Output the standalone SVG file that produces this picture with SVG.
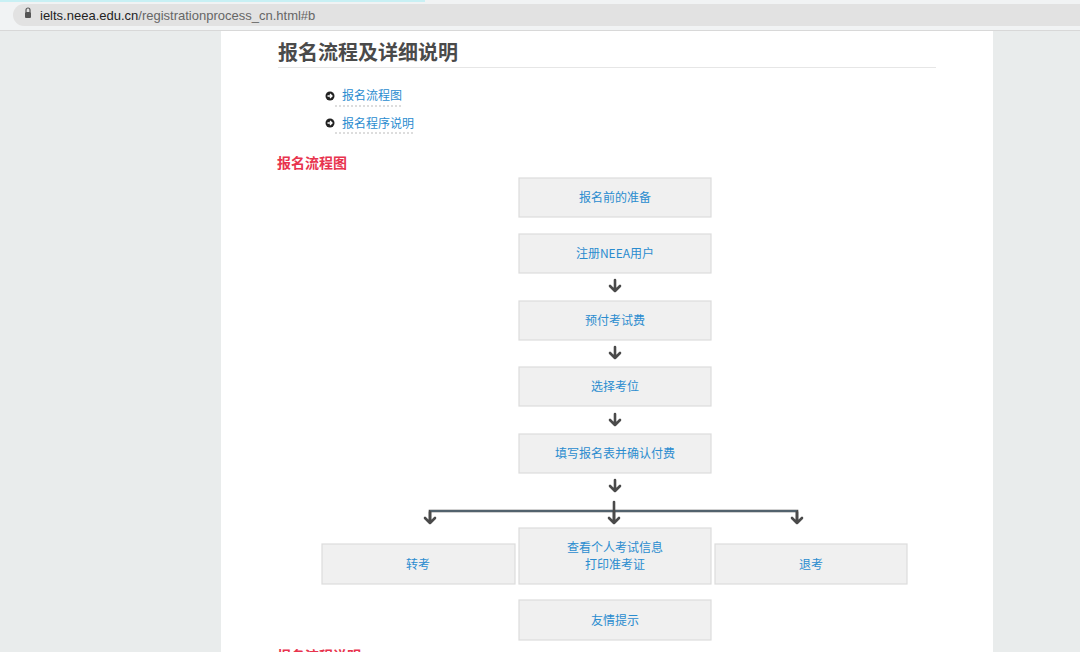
<svg xmlns="http://www.w3.org/2000/svg" width="1080" height="652" viewBox="0 0 1080 652">
<style>
.box{fill:#f0f0f0;stroke:#dcdcdc;stroke-width:1.2}
.t{font-family:"Noto Sans CJK SC","Noto Sans",sans-serif;font-size:12px;fill:#2a8ccf;text-anchor:middle}
.ar{fill:none;stroke:#4a4a4a;stroke-width:2.6;stroke-linecap:round;stroke-linejoin:round}
</style>
<defs>
<g id="dn"><path class="ar" d="M0,-6 V5 M-5,0 L0,5 L5,0"/></g>
</defs>
<rect width="1080" height="652" fill="#e9ecec"/>
<rect x="0" y="0" width="1080" height="30" fill="#f1f3f4"/>
<rect x="0" y="0" width="425" height="2" fill="#c8f0f4"/>
<rect x="13" y="4" width="1080" height="22" rx="11" fill="#e2e2e2"/>
<rect x="25" y="12" width="6" height="6" rx="1" fill="#555"/>
<path d="M26,12 v-2 a2,2 0 0 1 4,0 v2" fill="none" stroke="#555" stroke-width="1.2"/>
<text x="40" y="20" font-family="Liberation Sans,sans-serif" font-size="13" fill="#222">ielts.neea.edu.cn<tspan fill="#666">/registrationprocess_cn.html#b</tspan></text>
<rect x="0" y="30" width="1080" height="1" fill="#d8d8d8"/>
<rect x="221" y="31" width="772" height="621" fill="#fff"/>
<text x="278" y="60" font-family="Noto Sans CJK SC,sans-serif" font-size="20" font-weight="bold" fill="#4a4a4a">报名流程及详细说明</text>
<rect x="278" y="67" width="658" height="1" fill="#e6e6e6"/>
<circle cx="330" cy="96" r="4.5" fill="#222"/><path d="M327.5,96 h4 M330,94 l2,2 l-2,2" stroke="#fff" stroke-width="1.3" fill="none"/>
<text x="342" y="100" font-family="Noto Sans CJK SC,sans-serif" font-size="12" fill="#2a8ccf">报名流程图</text>
<line x1="335" y1="106" x2="402" y2="106" stroke="#bbb" stroke-dasharray="2,2"/>
<circle cx="330" cy="123" r="4.5" fill="#222"/><path d="M327.5,123 h4 M330,121 l2,2 l-2,2" stroke="#fff" stroke-width="1.3" fill="none"/>
<text x="342" y="128" font-family="Noto Sans CJK SC,sans-serif" font-size="12" fill="#2a8ccf">报名程序说明</text>
<line x1="335" y1="133" x2="413" y2="133" stroke="#bbb" stroke-dasharray="2,2"/>
<text x="277" y="168" font-family="Noto Sans CJK SC,sans-serif" font-size="14" font-weight="bold" fill="#e8344e">报名流程图</text>
<text x="277" y="661" font-family="Noto Sans CJK SC,sans-serif" font-size="14" font-weight="bold" fill="#e8344e">报名流程说明</text>
<g id="connectors">
<use href="#dn" x="615" y="286"/>
<use href="#dn" x="615" y="353"/>
<use href="#dn" x="615" y="420"/>
<use href="#dn" x="615" y="486"/>
<path d="M430,521 V511 H797 V521" fill="none" stroke="#4a4a4a" stroke-width="2.6"/>
<path d="M430,511 H797" stroke="#5a7a90" stroke-width="1"/>
<path class="ar" d="M614,502 V522"/>
<use href="#dn" x="430" y="518"/>
<use href="#dn" x="614" y="518"/>
<use href="#dn" x="797" y="518"/>
</g>
<g id="n1"><rect class="box" x="519" y="178" width="192" height="39"/><text class="t" x="615" y="202">报名前的准备</text></g>
<g id="n2"><rect class="box" x="519" y="234" width="192" height="39"/><text class="t" x="615" y="258">注册NEEA用户</text></g>
<g id="n3"><rect class="box" x="519" y="301" width="192" height="39"/><text class="t" x="615" y="325">预付考试费</text></g>
<g id="n4"><rect class="box" x="519" y="367" width="192" height="39"/><text class="t" x="615" y="391">选择考位</text></g>
<g id="n5"><rect class="box" x="519" y="434" width="192" height="39"/><text class="t" x="615" y="458">填写报名表并确认付费</text></g>
<g id="n6"><rect class="box" x="322" y="544" width="193" height="40"/><text class="t" x="418" y="569">转考</text></g>
<g id="n7"><rect class="box" x="519" y="528" width="192" height="56"/><text class="t" x="615" y="552">查看个人考试信息</text><text class="t" x="615" y="569">打印准考证</text></g>
<g id="n8"><rect class="box" x="715" y="544" width="192" height="40"/><text class="t" x="811" y="569">退考</text></g>
<g id="n9"><rect class="box" x="519" y="600" width="192" height="40"/><text class="t" x="615" y="625">友情提示</text></g>
</svg>
